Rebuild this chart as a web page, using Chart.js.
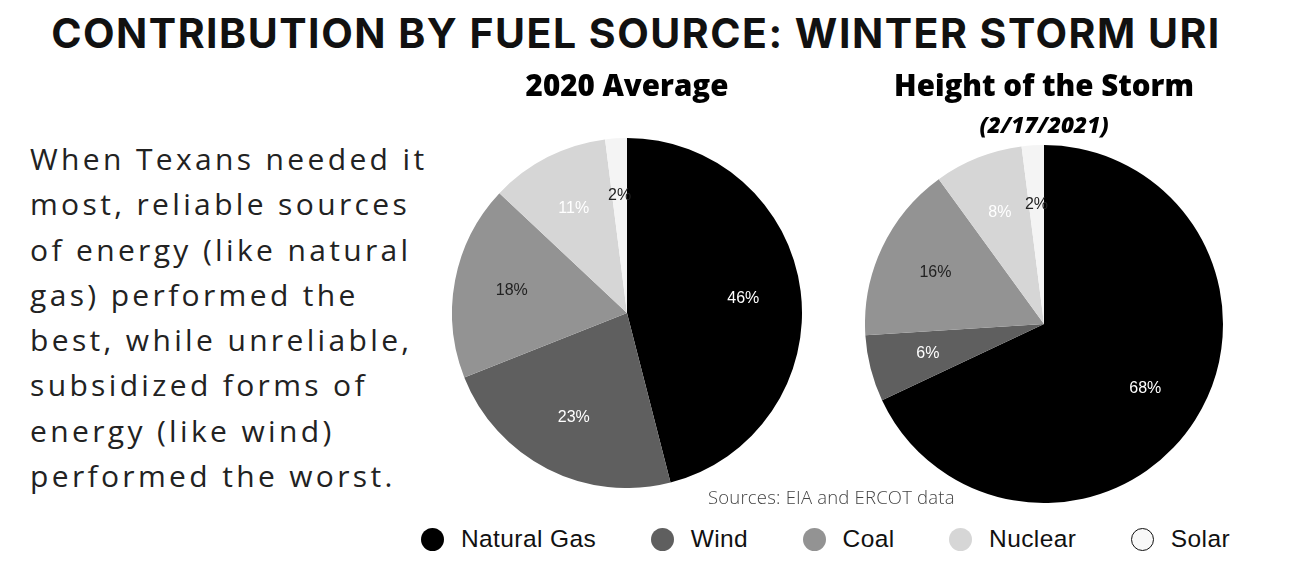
<!DOCTYPE html>
<html>
<head>
<meta charset="utf-8">
<script src="https://cdn.jsdelivr.net/npm/chart.js@4"></script>
<style>
  html, body { margin: 0; padding: 0; background: #fff; }
  body { width: 1292px; height: 574px; position: relative; overflow: hidden; font-family: "Open Sans", sans-serif; }
  h1 { position: absolute; left: 0; width: 1272px; top: 8px; margin: 0; text-align: center;
       font-family: Inter, sans-serif; font-weight: 700; font-size: 41px; letter-spacing: 1.5px; color: #111; }
  #blurb { position: absolute; left: 30px; top: 136px; font-size: 30px; line-height: 45.3px; font-weight: 400;
           letter-spacing: 3.35px; color: #222; white-space: nowrap; }
  #c1 { position: absolute; left: 452px; top: 66px; }
  #c2 { position: absolute; left: 865px; top: 66px; }
  #source { position: absolute; left: 708px; top: 484px; font-size: 18.5px; font-weight: 300; letter-spacing: 0.2px; color: #444; white-space: nowrap; }
  #legend { position: absolute; left: 421px; top: 525px; display: flex; align-items: center; gap: 54.5px;
            font-family: "Liberation Sans", Arial, sans-serif; font-size: 24.5px; letter-spacing: 0.4px; color: #111; }
  #legend .item { display: flex; align-items: center; }
  #legend .dot { width: 23px; height: 23px; border-radius: 50%; margin-right: 17px; box-sizing: border-box; }
</style>
</head>
<body>
<h1>CONTRIBUTION BY FUEL SOURCE: WINTER STORM URI</h1>
<div id="blurb">When Texans needed it<br>most, reliable sources<br>of energy (like natural<br>gas) performed the<br>best, while unreliable,<br>subsidized forms of<br>energy (like wind)<br>performed the worst.</div>
<canvas id="c1" width="350" height="422"></canvas>
<canvas id="c2" width="358" height="437"></canvas>
<div id="source">Sources: EIA and ERCOT data</div>
<div id="legend"></div>
<script>
var fuels = ["Natural Gas", "Wind", "Coal", "Nuclear", "Solar"];
var avg2020 = [46, 23, 18, 11, 2];
var storm = [68, 6, 16, 8, 2];

var fills = ["#000000", "#5f5f5f", "#939393", "#d6d6d6", "#f4f4f4"];
var labelColors = ["#ffffff", "#ffffff", "#222222", "#ffffff", "#222222"];

// percent labels drawn inside each slice
var sliceLabels = {
  id: "sliceLabels",
  afterDatasetsDraw: function (chart) {
    var ctx = chart.ctx;
    var meta = chart.getDatasetMeta(0);
    ctx.save();
    ctx.font = "16px 'Liberation Sans', Arial, sans-serif";
    ctx.textAlign = "center";
    ctx.textBaseline = "middle";
    meta.data.forEach(function (arc, i) {
      var mid = (arc.startAngle + arc.endAngle) / 2;
      var r = arc.outerRadius * 0.67;
      var x = arc.x + Math.cos(mid) * r;
      var y = arc.y + Math.sin(mid) * r;
      ctx.fillStyle = labelColors[i];
      ctx.fillText(chart.data.datasets[0].data[i] + "%", x, y);
    });
    ctx.restore();
  }
};

function makePie(id, values, title, subtitle) {
  var plugins = {
    legend: { display: false },
    tooltip: { enabled: false },
    title: {
      display: true,
      text: title,
      color: "#000",
      font: { family: "'Open Sans'", size: 29.5, weight: "800" },
      padding: subtitle ? { top: 4, bottom: 8.1 } : { top: 4, bottom: 32.6 }
    },
    subtitle: {
      display: !!subtitle,
      text: subtitle || "",
      color: "#000",
      font: { family: "'Open Sans'", size: 22.5, weight: "800", style: "italic" },
      padding: { top: 0, bottom: 4.5 }
    }
  };
  return new Chart(document.getElementById(id), {
    type: "pie",
    data: {
      labels: fuels,
      datasets: [{ data: values, backgroundColor: fills, borderWidth: 0 }]
    },
    options: {
      responsive: false,
      animation: false,
      layout: { padding: 0 },
      plugins: plugins
    },
    plugins: [sliceLabels]
  });
}

makePie("c1", avg2020, "2020 Average");
makePie("c2", storm, "Height of the Storm", "(2/17/2021)");

var legend = document.getElementById("legend");
fuels.forEach(function (name, i) {
  var item = document.createElement("div");
  item.className = "item";
  var dot = document.createElement("span");
  dot.className = "dot";
  dot.style.background = fills[i];
  if (i === fuels.length - 1) { dot.style.background = "#f8f8f8"; dot.style.border = "1px solid #111"; }
  var txt = document.createElement("span");
  txt.textContent = name;
  item.appendChild(dot);
  item.appendChild(txt);
  legend.appendChild(item);
});
</script>
</body>
</html>
